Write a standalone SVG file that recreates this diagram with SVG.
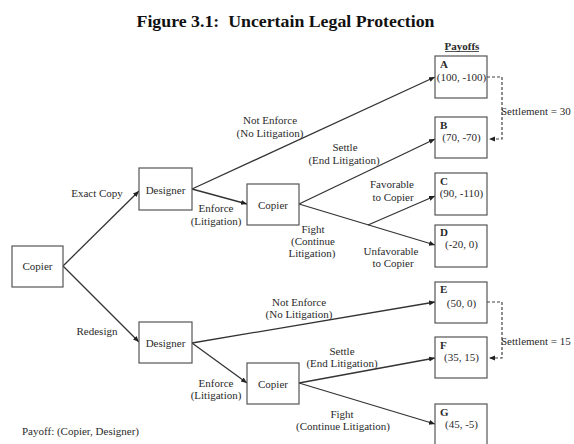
<svg xmlns="http://www.w3.org/2000/svg" width="574" height="444" viewBox="0 0 574 444">
<style>
text{font-family:"Liberation Serif","Times New Roman",serif;font-size:11px;fill:#2a2a2a}
.c{text-anchor:middle}
.b{font-weight:bold}
.title{font-size:17px;font-weight:bold;fill:#111}
.box{fill:#fff;stroke:#555;stroke-width:1.2}
.edge{fill:none;stroke:#333;stroke-width:1.3;marker-end:url(#ah)}
.dash{fill:none;stroke:#444;stroke-width:1.2;stroke-dasharray:3,2;marker-end:url(#ah)}
</style>
<defs>
<marker id="ah" markerUnits="userSpaceOnUse" markerWidth="7" markerHeight="6" refX="6" refY="2.5" orient="auto">
<path d="M0,0 L6,2.5 L0,5 z" fill="#222"/>
</marker>
</defs>
<rect width="574" height="444" fill="#fff"/>
<text class="title" x="136.5" y="26.5" textLength="298" lengthAdjust="spacingAndGlyphs" xml:space="preserve">Figure 3.1:  Uncertain Legal Protection</text>

<g id="connectors">
<path class="edge" d="M63,266 L139,191"/>
<path class="edge" d="M63,266 L139,342"/>
<path class="edge" d="M192,189 L435,77"/>
<path class="edge" d="M192,189 L247,204"/>
<path class="edge" d="M299,204 L435,139"/>
<path class="edge" d="M299,204 L435,245"/>
<path class="edge" d="M368,225 L435,196"/>
<path class="edge" d="M192,343 L435,302"/>
<path class="edge" d="M192,343 L247,383"/>
<path class="edge" d="M299,383 L435,358"/>
<path class="edge" d="M299,383 L435,424"/>
<path class="dash" d="M487,77 H502 V139 H489"/>
<path class="dash" d="M487,302 H502 V358 H489"/>
</g>

<g id="edge-labels">
<text class="c" x="97" y="197">Exact Copy</text>
<text class="c" x="97" y="335">Redesign</text>
<text class="c" x="270" y="124">Not Enforce</text>
<text class="c" x="270" y="137">(No Litigation)</text>
<text class="c" x="216" y="212">Enforce</text>
<text class="c" x="216" y="225">(Litigation)</text>
<text class="c" x="345" y="151">Settle</text>
<text class="c" x="344" y="164">(End Litigation)</text>
<text class="c" x="392" y="188">Favorable</text>
<text class="c" x="393" y="201">to Copier</text>
<text class="c" x="313" y="233">Fight</text>
<text class="c" x="313" y="245">(Continue</text>
<text class="c" x="312" y="257">Litigation)</text>
<text class="c" x="391" y="255">Unfavorable</text>
<text class="c" x="393" y="267">to Copier</text>
<text class="c" x="299" y="306">Not Enforce</text>
<text class="c" x="299" y="318">(No Litigation)</text>
<text class="c" x="216" y="387">Enforce</text>
<text class="c" x="216" y="399">(Litigation)</text>
<text class="c" x="342" y="355">Settle</text>
<text class="c" x="342" y="367">(End Litigation)</text>
<text class="c" x="342" y="418">Fight</text>
<text class="c" x="343" y="430">(Continue Litigation)</text>
<text x="501" y="114.5">Settlement = 30</text>
<text x="501" y="344.5">Settlement = 15</text>
</g>

<g id="copier-root"><rect class="box" x="12" y="246" width="51" height="41"/><text class="c" x="37.5" y="270">Copier</text></g>
<g id="designer-top"><rect class="box" x="139" y="168" width="53" height="42"/><text class="c" x="165.5" y="193.5">Designer</text></g>
<g id="copier-top"><rect class="box" x="247" y="184" width="52" height="41"/><text class="c" x="273" y="208.5">Copier</text></g>
<g id="designer-bottom"><rect class="box" x="139" y="322" width="53" height="41"/><text class="c" x="165.5" y="347">Designer</text></g>
<g id="copier-bottom"><rect class="box" x="247" y="363" width="52" height="41"/><text class="c" x="273" y="388">Copier</text></g>

<text class="b c" x="462" y="49.5">Payoffs</text>
<line x1="445" y1="51.5" x2="479" y2="51.5" stroke="#2a2a2a" stroke-width="0.8"/>

<g id="payoff-A"><rect class="box" x="435" y="56" width="52" height="42"/><text class="b" x="440" y="68">A</text><text class="c" x="461.5" y="81">(100, -100)</text></g>
<g id="payoff-B"><rect class="box" x="435" y="117" width="52" height="41"/><text class="b" x="440" y="129">B</text><text class="c" x="461.5" y="140.5">(70, -70)</text></g>
<g id="payoff-C"><rect class="box" x="435" y="173" width="52" height="42"/><text class="b" x="440" y="185">C</text><text class="c" x="461.5" y="197">(90, -110)</text></g>
<g id="payoff-D"><rect class="box" x="435" y="225" width="52" height="42"/><text class="b" x="440" y="236">D</text><text class="c" x="461.5" y="248">(-20, 0)</text></g>
<g id="payoff-E"><rect class="box" x="435" y="282" width="52" height="41"/><text class="b" x="440" y="293">E</text><text class="c" x="461.5" y="306.5">(50, 0)</text></g>
<g id="payoff-F"><rect class="box" x="435" y="337" width="52" height="41"/><text class="b" x="440" y="349">F</text><text class="c" x="461.5" y="361">(35, 15)</text></g>
<g id="payoff-G"><rect class="box" x="435" y="404" width="52" height="42"/><text class="b" x="440" y="416">G</text><text class="c" x="461.5" y="427.5">(45, -5)</text></g>

<text x="22" y="435">Payoff: (Copier, Designer)</text>
</svg>
